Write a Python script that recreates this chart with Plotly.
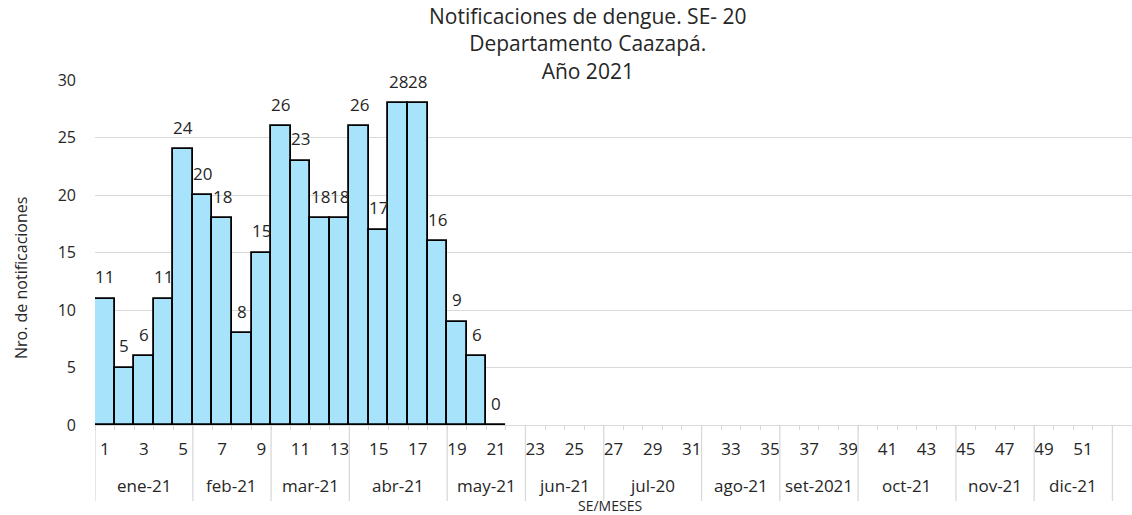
import plotly.graph_objects as go

# ---- data ----
weeks = list(range(1, 54))
case_weeks = list(range(1, 22))
cases = [11, 5, 6, 11, 24, 20, 18, 8, 15, 26, 23, 18, 18, 26, 17, 28, 28, 16, 9, 6, 0]
tick_weeks = list(range(1, 52, 2))
tick_labels = [str(w) for w in tick_weeks]
months = ["ene-21", "feb-21", "mar-21", "abr-21", "may-21", "jun-21", "jul-20",
          "ago-21", "set-2021", "oct-21", "nov-21", "dic-21"]
month_first_week = [1, 6, 10, 14, 19, 23, 27, 32, 36, 40, 45, 49]
month_last_week = [5, 9, 13, 18, 22, 26, 31, 35, 39, 44, 48, 52]
title_lines = ["Notificaciones de dengue. SE- 20", "Departamento Caazapá.", "Año 2021"]

FONT = "Open Sans"
TXT = "#262626"

fig = go.Figure()
fig.add_trace(go.Bar(
    x=case_weeks, y=cases, width=1.0,
    marker=dict(color="#A7E3FA", line=dict(color="black", width=1.8)),
    hoverinfo="x+y",
))

annotations = []
for w, v in zip(case_weeks, cases):
    annotations.append(dict(x=w, y=v, xref="x", yref="y", text=str(v), showarrow=False,
                            yshift=22, yanchor="middle",
                            font=dict(family=FONT, size=17, color=TXT)))
for m, a, b in zip(months, month_first_week, month_last_week):
    annotations.append(dict(x=(a + b) / 2, y=-0.174, xref="x", yref="paper", text=m,
                            showarrow=False, yanchor="middle",
                            font=dict(family=FONT, size=17, color=TXT)))
annotations.append(dict(x=0.497, y=-0.233, xref="paper", yref="paper", text="SE/MESES",
                        showarrow=False, yanchor="middle",
                        font=dict(family=FONT, size=14, color=TXT)))
annotations.append(dict(x=-0.0714, y=0.426, xref="paper", yref="paper",
                        text="Nro. de notificaciones", textangle=-90, showarrow=False,
                        xanchor="center", yanchor="middle",
                        font=dict(family=FONT, size=16, color=TXT)))
annotations.append(dict(x=(588 - 95) / 1037, y=(425 - 44) / 345, xref="paper", yref="paper",
                        text="<br>".join(title_lines), showarrow=False,
                        xanchor="center", yanchor="middle", align="center",
                        font=dict(family=FONT, size=21, color=TXT)))

shapes = []
for b in [month_first_week[0] - 0.5] + [w + 0.5 for w in month_last_week]:
    shapes.append(dict(type="line", xref="x", yref="paper", x0=b, x1=b, y0=0, y1=-0.22,
                       line=dict(color="#d9d9d9", width=1.3)))

fig.update_layout(
    width=1132, height=515,
    margin=dict(l=95, r=0, t=80, b=90, autoexpand=False),
    paper_bgcolor="white", plot_bgcolor="white",
    bargap=0,
    showlegend=False,
    xaxis=dict(range=[0.5, 53.5], tickmode="array", tickvals=tick_weeks, ticktext=tick_labels,
               ticks="", showgrid=False, zeroline=False, automargin=False,
               showline=True, linecolor="#d9d9d9", linewidth=1.3,
               tickfont=dict(family=FONT, size=17, color=TXT), ticklabelstandoff=8,
               minor=dict(tick0=0.5, dtick=1, ticks="outside", ticklen=4,
                          tickcolor="#d9d9d9", showgrid=False)),
    yaxis=dict(range=[0, 30], dtick=5, showgrid=True, gridcolor="#d9d9d9", gridwidth=1.3,
               zeroline=False, showline=False, ticks="", automargin=False,
               tickfont=dict(family=FONT, size=16, color=TXT), ticklabelstandoff=18),
    annotations=annotations,
    shapes=shapes,
)

fig.write_html(
    "out.html",
    config={"displayModeBar": False},
    post_script="document.body.style.margin='0';document.body.style.overflow='hidden';",
)
